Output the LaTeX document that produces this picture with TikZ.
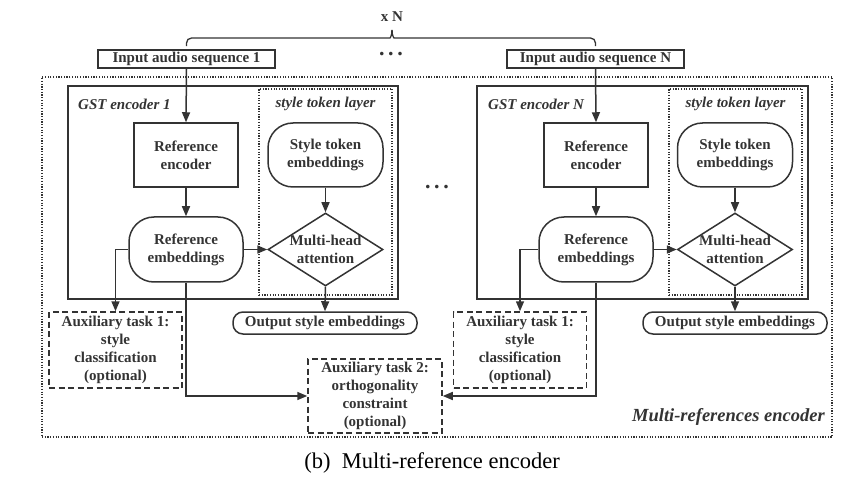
\documentclass[tikz,border=0pt]{standalone}
\usepackage{fontspec}
\setmainfont{Liberation Serif}
\usetikzlibrary{arrows.meta,shapes.geometric,calc}
\definecolor{ink}{HTML}{333333}
\begin{document}
\begin{tikzpicture}[x=1pt,y=-1pt,
  every node/.style={font=\fontsize{15}{18}\selectfont\bfseries, text=ink, align=center, inner sep=0pt},
  ln/.style={draw=ink, line width=1.5pt},
  arr/.style={ln, -{Triangle[length=10pt,width=8pt]}},
  sqbox/.style={ln, minimum width=104pt, minimum height=64pt},
  rbox/.style={ln, rounded corners=25pt, minimum width=115pt, minimum height=64pt},
  dia/.style={ln, diamond, aspect=1.575, minimum width=115pt, minimum height=73pt, inner sep=-6pt},
  pill/.style={ln, rounded corners=10pt, minimum width=184pt, minimum height=22pt},
  auxbox/.style={ln, dash pattern=on 6pt off 3.5pt, minimum width=133pt, minimum height=76pt, font=\fontsize{15}{18}\selectfont\bfseries},
  dotbox/.style={draw=ink, line width=1.3pt, dash pattern=on 1.2pt off 1.5pt},
  lab/.style={font=\fontsize{15}{18}\selectfont\bfseries\itshape},
  dots/.style={font=\fontsize{22}{22}\selectfont\bfseries}
]
\useasboundingbox (0,0) rectangle (867,486);

% outer dotted box
\node[dotbox, minimum width=790pt, minimum height=360pt] (outer) at (437,257) {};
\node[lab, font=\fontsize{18.5}{20}\selectfont\bfseries\itshape, anchor=east] (mre) at (825,417) {Multi-references encoder};

% inputs
\node[ln, minimum width=177pt, minimum height=18pt] (in1) at (186.5,59) {Input audio sequence 1};
\node[ln, minimum width=177pt, minimum height=18pt] (inN) at (595.5,59) {Input audio sequence N};
\node[dots] (topdots) at (391,54) {.\,.\,.};
\node (xn) at (392,17) {x N};
\coordinate (btip) at (392,30);
\draw[ln, line width=1.3pt, rounded corners=5pt] ($(in1.north)+(0,-3)$) |- (385,38) .. controls (390,38) and (392,36) .. (btip);
\draw[ln, line width=1.3pt, rounded corners=5pt] ($(inN.north)+(0,-3)$) |- (399,38) .. controls (394,38) and (392,36) .. (btip);

\node[dots] (middots) at (437,187) {.\,.\,.};

% ---------- encoder 1 ----------
\node[ln, line width=1.7pt, minimum width=330pt, minimum height=213pt] (gst1) at (233,192.5) {};
\node[dotbox, minimum width=133pt, minimum height=206pt] (stl1) at (325.5,192) {};
\node[lab, anchor=west] (gl1) at (78,104) {GST encoder 1};
\node[lab] (sl1) at (325.5,104) {style token layer};
\node[sqbox] (re1) at (186,155) {Reference\\encoder};
\node[rbox] (ste1) at (325.5,155) {Style token\\embeddings};
\node[rbox, minimum width=114pt, minimum height=65pt] (remb1) at (186,249.5) {Reference\\embeddings};
\node[dia] (mha1) at (325.5,249.5) {Multi-head\\attention};
\node[pill] (out1) at (325,323) {Output style embeddings};
\node[auxbox] (aux1) at (115.5,350) {Auxiliary task 1:\\style\\classification\\(optional)};

\draw[arr] (in1.south) -- (re1.north);
\draw[arr] (re1) -- (remb1);
\draw[arr] (ste1) -- (mha1);
\draw[arr] (remb1.east) -- (mha1.west);
\draw[arr] (mha1.south) -- (out1.north);
\draw[arr] (remb1.west) -| (aux1.north);

% ---------- encoder N ----------
\node[ln, line width=1.7pt, minimum width=331pt, minimum height=213pt] (gstN) at (642.5,192.5) {};
\node[dotbox, minimum width=133pt, minimum height=206pt] (stlN) at (735.5,192) {};
\node[lab, anchor=west] (glN) at (488,104) {GST encoder N};
\node[lab] (slN) at (735.5,104) {style token layer};
\node[sqbox] (reN) at (596,155) {Reference\\encoder};
\node[rbox] (steN) at (735,155) {Style token\\embeddings};
\node[rbox, minimum width=114pt, minimum height=65pt] (rembN) at (596,249.5) {Reference\\embeddings};
\node[dia] (mhaN) at (735,249.5) {Multi-head\\attention};
\node[pill] (outN) at (735,323) {Output style embeddings};
\node[auxbox] (auxN) at (520,350) {Auxiliary task 1:\\style\\classification\\(optional)};

\draw[arr] (inN.south) -- (reN.north);
\draw[arr] (reN) -- (rembN);
\draw[arr] (steN) -- (mhaN);
\draw[arr] (rembN.east) -- (mhaN.west);
\draw[arr] (mhaN.south) -- (outN.north);
\draw[arr] (rembN.west) -| (auxN.north);

% aux 2
\node[auxbox, minimum width=134pt, minimum height=74pt] (aux2) at (375,396) {Auxiliary task 2:\\orthogonality\\constraint\\(optional)};
\draw[arr] (remb1.south) |- (aux2.west);
\draw[arr] (rembN.south) |- (aux2.east);

% caption
\node[font=\fontsize{22.5}{26}\selectfont, text=black] (cap) at (432,463) {(b)\ \ Multi-reference encoder};
\end{tikzpicture}
\end{document}
